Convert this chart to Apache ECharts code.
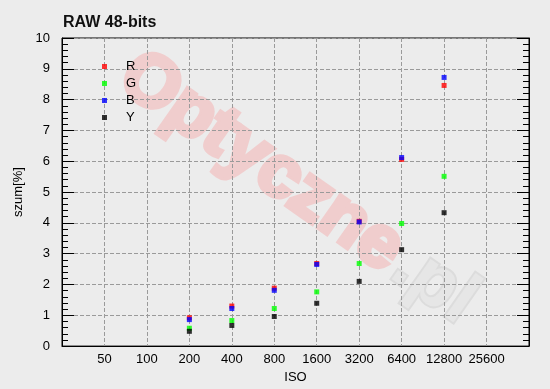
<!DOCTYPE html>
<html>
<head>
<meta charset="utf-8">
<script src="https://cdn.jsdelivr.net/npm/echarts@6/dist/echarts.min.js"></script>
<style>html,body{margin:0;padding:0;background:#ececec;}#c{width:550px;height:389px;}</style>
</head>
<body>
<div id="c"></div>
<script>
// Categories of the ISO axis (first and last are unlabeled padding positions)
var isoCats = ['25','50','100','200','400','800','1600','3200','6400','12800','25600','51200'];
// Measured ISO values
var isoVals = ['200','400','800','1600','3200','6400','12800'];
var serR = [0.92, 1.30, 1.88, 2.68, 4.05, 6.06, 8.46];
var serG = [0.58, 0.83, 1.22, 1.76, 2.68, 3.98, 5.51];
var serB = [0.86, 1.22, 1.81, 2.65, 4.03, 6.12, 8.72];
var serY = [0.48, 0.67, 0.96, 1.39, 2.10, 3.13, 4.33];
var seriesNames = ['R','G','B','Y'];
var yTicks = [0,1,2,3,4,5,6,7,8,9,10];

var FONT = '"Liberation Sans", Arial, sans-serif';
var chart = echarts.init(document.getElementById('c'), null, {renderer:'canvas'});

function pairs(vals){ return isoVals.map(function(c,i){ return [c, vals[i]]; }); }
var colors = ['#ff0000','#00ff00','#0000ff','#000000'];
var datas = [serR, serG, serB, serY];
var lastIdx = isoCats.length - 1;
var inner = function(i){ return i > 0 && i < lastIdx; };
var grid = {type:'dashed', dashOffset:0, color:'#9a9a9a', width:1};

var yCommon = {
  type:'value', min:yTicks[0], max:yTicks[yTicks.length-1], interval:1,
  axisLine:{show:true, lineStyle:{color:'#000', width:1}},
  axisTick:{show:true, inside:true, length:12, lineStyle:{color:'#000'}},
  minorTick:{show:true, splitNumber:5, length:6, lineStyle:{color:'#000'}}
};
var WMFONT = 'bold 73px "Liberation Sans", Arial, sans-serif';
var shadow = {shadowColor:'rgba(0,0,0,0.12)', shadowBlur:8, shadowOffsetX:5, shadowOffsetY:5};

chart.setOption({
  backgroundColor:'#ececec',
  animation:false,
  title:{text:'RAW 48-bits', left:58, top:10,
    textStyle:{fontFamily:FONT, fontSize:16, fontWeight:'bold', color:'#111'}},
  grid:{left:62, right:21, top:38, bottom:42, show:true, borderColor:'#000', borderWidth:1, backgroundColor:'transparent'},
  legend:{
    orient:'vertical', left:102, top:58, padding:0, itemGap:0,
    itemWidth:5, itemHeight:5,
    data:seriesNames,
    textStyle:{fontFamily:FONT, fontSize:13, color:'#000', lineHeight:17, padding:[0,0,0,14]}
  },
  graphic:[{
    type:'group', x:297, y:188, rotation:-35*Math.PI/180, z:-10, silent:true,
    children:[
      {type:'text', x:-208, y:0, silent:true,
       style:Object.assign({text:'Optyczne', font:WMFONT, fill:'#f0cdcd', stroke:'#f0cdcd', lineWidth:5, align:'left', verticalAlign:'middle'}, shadow)},
      {type:'text', x:125, y:0, silent:true,
       style:Object.assign({text:'.pl', font:WMFONT, fill:'#e6e6e6', stroke:'#dcdcdc', lineWidth:4, align:'left', verticalAlign:'middle'}, shadow)}
    ]
  }],
  xAxis:[{
    type:'category', data:isoCats, boundaryGap:false,
    axisLine:{show:true, lineStyle:{color:'#000', width:1}},
    axisTick:{show:false},
    axisLabel:{interval:function(i){return inner(i);}, margin:7, fontFamily:FONT, fontSize:13, color:'#000'},
    splitLine:{show:true, interval:function(i){return inner(i);}, lineStyle:grid},
    name:'ISO', nameLocation:'middle', nameGap:22,
    nameTextStyle:{fontFamily:FONT, fontSize:13, color:'#000'}
  }],
  yAxis:[
    Object.assign({}, yCommon, {
      position:'left',
      axisLabel:{margin:12, fontFamily:FONT, fontSize:13, color:'#000'},
      splitLine:{show:true, lineStyle:grid},
      name:'szum[%]', nameLocation:'middle', nameGap:31, nameRotate:90,
      nameTextStyle:{fontFamily:FONT, fontSize:13, color:'#000'}
    }),
    Object.assign({}, yCommon, {
      position:'right',
      axisLabel:{show:false},
      splitLine:{show:false}
    })
  ],
  series: seriesNames.map(function(n,i){
    return {
      name:n, type:'scatter', symbol:'rect', symbolSize:5,
      itemStyle:{color:colors[i]},
      data:pairs(datas[i]), z:2+i
    };
  })
});
</script>
</body>
</html>
